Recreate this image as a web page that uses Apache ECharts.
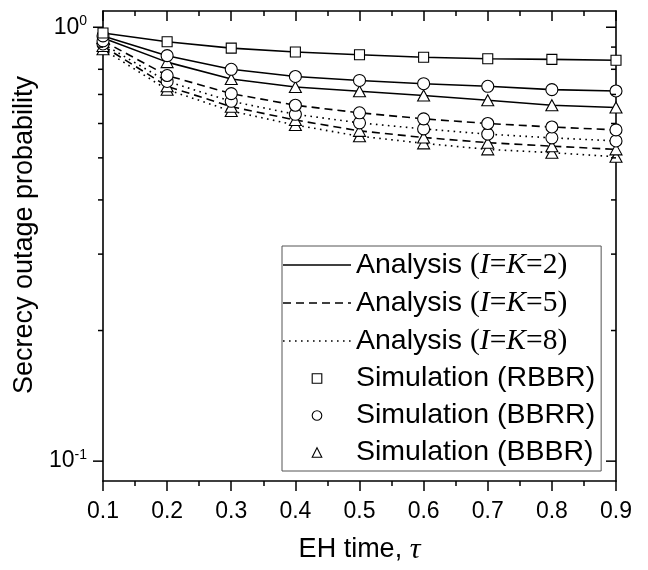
<!DOCTYPE html>
<html>
<head>
<meta charset="utf-8">
<script src="https://cdn.jsdelivr.net/npm/echarts@6/dist/echarts.min.js"></script>
<style>
  html, body { margin: 0; padding: 0; background: #fff; }
  #chart { width: 648px; height: 570px; }
</style>
</head>
<body>
<div id="chart"></div>
<script>
// EH time values (x)
var tau = [0.1, 0.2, 0.3, 0.4, 0.5, 0.6, 0.7, 0.8, 0.9];

// secrecy outage probability
var rbbr2 = [0.970, 0.926, 0.895, 0.877, 0.864, 0.853, 0.846, 0.843, 0.839];
var bbrr2 = [0.955, 0.860, 0.800, 0.770, 0.754, 0.741, 0.731, 0.718, 0.713];
var bbbr2 = [0.945, 0.831, 0.760, 0.728, 0.712, 0.696, 0.679, 0.661, 0.653];
var bbrr5 = [0.930, 0.774, 0.703, 0.661, 0.635, 0.615, 0.600, 0.589, 0.580];
var bbrr8 = [0.915, 0.750, 0.675, 0.630, 0.602, 0.583, 0.567, 0.556, 0.547];
var bbbr5 = [0.905, 0.731, 0.656, 0.611, 0.577, 0.557, 0.542, 0.532, 0.523];
var bbbr8 = [0.890, 0.718, 0.641, 0.595, 0.561, 0.540, 0.523, 0.514, 0.503];

var yMajorTicks = [0.1, 1];
var yMinorTicks = [0.2, 0.3, 0.4, 0.5, 0.6, 0.7, 0.8, 0.9];

var legendNames = ['Analysis (I=K=2)', 'Analysis (I=K=5)', 'Analysis (I=K=8)',
                   'Simulation (RBBR)', 'Simulation (BBRR)', 'Simulation (BBBR)'];

function pairs(ys) {
    return tau.map(function(x, i) { return [x, ys[i]]; });
}

var solid = 'solid';
var dashed = [8, 5];
var dotted = [1.6, 4.4];

var markStyle = { color: '#fff', borderColor: '#000', borderWidth: 1.1, opacity: 1 };

function analysisLine(name, ys, type) {
    return {
        name: name,
        type: 'line',
        data: ys ? pairs(ys) : [],
        symbol: 'none',
        z: 2,
        itemStyle: { color: '#000' },
        lineStyle: { color: '#000', width: 1.6, type: type }
    };
}

function simMarks(name, ys, symbol, size) {
    return {
        name: name,
        type: 'scatter',
        data: pairs(ys),
        symbol: symbol,
        symbolSize: size,
        z: 4,
        itemStyle: markStyle
    };
}

// empty line series, only there to feed the legend
function legendOnly(name, symbol) {
    return {
        name: name,
        type: 'line',
        data: [],
        symbol: symbol || 'none',
        itemStyle: symbol ? markStyle : { color: '#000', opacity: 0 },
        lineStyle: { color: '#000', width: 1.6 }
    };
}

var series = [
    analysisLine('l-rbbr2', rbbr2, solid),
    analysisLine('l-bbrr2', bbrr2, solid),
    analysisLine('l-bbbr2', bbbr2, solid),
    analysisLine('l-bbrr5', bbrr5, dashed),
    analysisLine('l-bbbr5', bbbr5, dashed),
    analysisLine('l-bbrr8', bbrr8, dotted),
    analysisLine('l-bbbr8', bbbr8, dotted),
    simMarks('m-bbbr8', bbbr8, 'triangle', [12, 11]),
    simMarks('m-bbbr5', bbbr5, 'triangle', [12, 11]),
    simMarks('m-bbbr2', bbbr2, 'triangle', [12, 11]),
    simMarks('m-bbrr8', bbrr8, 'circle', 12),
    simMarks('m-bbrr5', bbrr5, 'circle', 12),
    simMarks('m-bbrr2', bbrr2, 'circle', 12),
    simMarks('m-rbbr2', rbbr2, 'rect', 10),
    legendOnly(legendNames[0]),
    legendOnly(legendNames[1]),
    legendOnly(legendNames[2]),
    legendOnly(legendNames[3], 'rect'),
    legendOnly(legendNames[4], 'circle'),
    legendOnly(legendNames[5], 'triangle'),
    // log-axis ticks, left (outside) and right (inside)
    {
        type: 'custom',
        silent: true,
        z: 5,
        data: yMajorTicks.map(function(v) { return [0.1, v, 10]; })
            .concat(yMinorTicks.map(function(v) { return [0.1, v, 5]; })),
        renderItem: function(params, api) {
            var v = api.value(1), len = api.value(2);
            var pl = api.coord([0.1, v]);
            var pr = api.coord([0.9, v]);
            var st = { stroke: '#000', lineWidth: 1.5 };
            return {
                type: 'group',
                children: [
                    { type: 'line', shape: { x1: pl[0] - len, y1: pl[1], x2: pl[0], y2: pl[1] }, style: st },
                    { type: 'line', shape: { x1: pr[0] - len, y1: pr[1], x2: pr[0], y2: pr[1] }, style: st }
                ]
            };
        }
    }
];

var lineKinds = [solid, dashed, dotted];
var legendData = legendNames.map(function(name, i) {
    if (i < 3) {
        return {
            name: name,
            itemStyle: { opacity: 0 },
            lineStyle: { color: '#000', width: 1.6, type: lineKinds[i], opacity: 1 }
        };
    }
    return {
        name: name,
        itemStyle: { color: '#fff', borderColor: '#000', borderWidth: 1.1, opacity: 1 },
        lineStyle: { opacity: 0 }
    };
});

var serif = 'Liberation Serif';
var sans = 'Liberation Sans';

var chart = echarts.init(document.getElementById('chart'));
chart.setOption({
    animation: false,
    backgroundColor: '#fff',
    grid: { left: 103, right: 32, top: 11, bottom: 89 },
    xAxis: [{
        type: 'value',
        min: 0.1,
        max: 0.9,
        interval: 0.1,
        name: '{n|EH time, }{t|τ}',
        nameLocation: 'middle',
        nameGap: 54,
        nameTextStyle: {
            rich: {
                n: { fontFamily: sans, fontSize: 27, color: '#000' },
                t: { fontFamily: serif, fontStyle: 'italic', fontSize: 30, color: '#000' }
            }
        },
        axisLine: { lineStyle: { color: '#000', width: 1.6 } },
        axisTick: { length: 10, lineStyle: { color: '#000', width: 1.5 } },
        minorTick: { show: true, splitNumber: 2, length: 5, lineStyle: { color: '#000', width: 1.5 } },
        axisLabel: { fontFamily: sans, fontSize: 23, color: '#000', margin: 19,
            formatter: function(v) { return v.toFixed(1); } },
        splitLine: { show: false }
    }, {
        type: 'value',
        position: 'top',
        min: 0.1,
        max: 0.9,
        interval: 0.1,
        axisLine: { lineStyle: { color: '#000', width: 1.6 } },
        axisTick: { inside: true, length: 10, lineStyle: { color: '#000', width: 1.5 } },
        minorTick: { show: true, splitNumber: 2, length: 5, lineStyle: { color: '#000', width: 1.5 } },
        axisLabel: { show: false },
        splitLine: { show: false }
    }],
    yAxis: [{
        type: 'log',
        logBase: 10,
        min: 0.09,
        max: 1.09,
        name: 'Secrecy outage probability',
        nameLocation: 'middle',
        nameGap: 60,
        nameTextStyle: { fontFamily: sans, fontSize: 27, color: '#000', padding: [0, 0, 0, 22] },
        axisLine: { lineStyle: { color: '#000', width: 1.6 } },
        axisTick: { show: false },
        axisLabel: {
            showMinLabel: false,
            showMaxLabel: false,
            margin: 16,
            color: '#000',
            formatter: function(v) {
                var e = Math.round(Math.log10(v));
                if (Math.abs(Math.log10(v) - e) > 1e-6) return '';
                return '{b|10}{s|' + e + '}';
            },
            rich: {
                b: { fontFamily: sans, fontSize: 23, color: '#000' },
                s: { fontFamily: sans, fontSize: 14, color: '#000', verticalAlign: 'bottom', padding: [0, 0, 12, 0] }
            }
        },
        splitLine: { show: false }
    }, {
        type: 'log',
        logBase: 10,
        min: 0.09,
        max: 1.09,
        position: 'right',
        axisLine: { lineStyle: { color: '#000', width: 1.6 } },
        axisTick: { show: false },
        axisLabel: { show: false },
        splitLine: { show: false }
    }],
    legend: {
        data: legendData,
        orient: 'vertical',
        left: 282,
        top: 246,
        itemWidth: 68,
        itemHeight: 12,
        itemGap: 8,
        padding: [4, 6, 4, 0],
        borderColor: '#555',
        borderWidth: 1,
        backgroundColor: '#fff',
        selectedMode: false,
        textStyle: {
            fontFamily: sans,
            fontSize: 28.5,
            color: '#000',
            rich: {
                p: { fontFamily: serif, fontSize: 29.5, color: '#000' },
                i: { fontFamily: serif, fontSize: 29.5, fontStyle: 'italic', color: '#000' }
            }
        },
        formatter: function(name) {
            var m = name.match(/^Analysis \(I=K=(\d)\)$/);
            if (m) {
                return 'Analysis {p|(}{i|I}{p|=}{i|K}{p|=' + m[1] + ')}';
            }
            return name;
        }
    },
    series: series
});
</script>
</body>
</html>
